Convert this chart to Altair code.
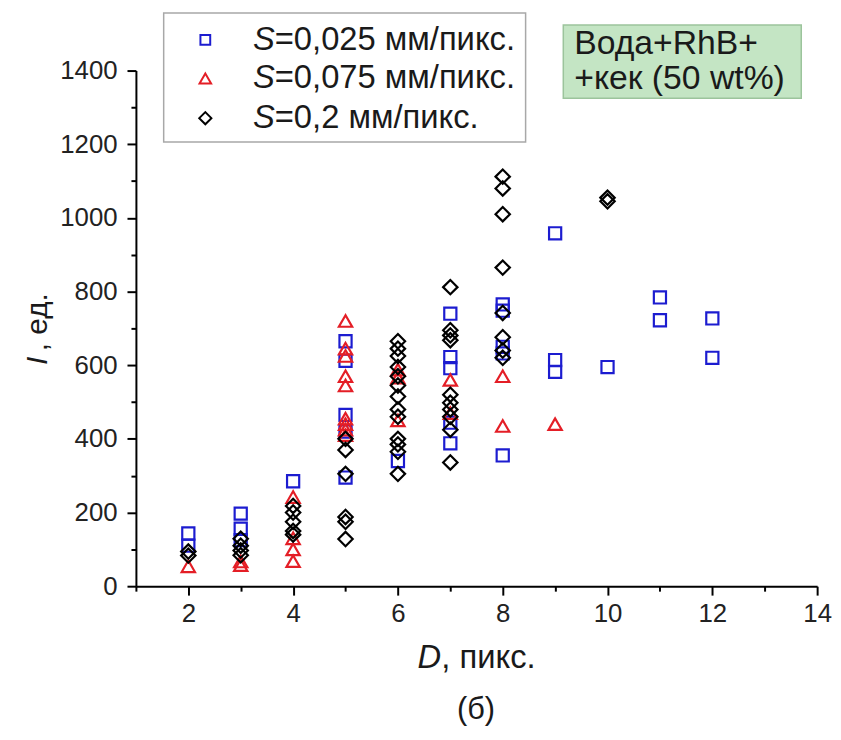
import altair as alt
import pandas as pd

# ---- data ----
blue_x = [2, 2, 3, 3, 3, 4, 5, 5, 5, 5, 5, 6, 7, 7, 7, 7, 7, 8, 8, 8, 8, 8, 9, 9, 9, 10, 11, 11, 12, 12]
blue_y = [143, 110, 197, 156, 125, 285, 665, 612, 465, 420, 295, 340, 740, 622, 592, 444, 388, 765, 748, 650, 632, 355, 958, 614, 582, 595, 784, 722, 727, 620]

red_x = [2, 3, 3, 4, 4, 4, 4, 5, 5, 5, 5, 5, 5, 5, 5, 5, 6, 6, 6, 7, 7, 8, 8, 9]
red_y = [54, 67, 57, 242, 130, 100, 68, 720, 645, 625, 570, 545, 455, 440, 425, 410, 588, 566, 450, 560, 470, 570, 435, 440]

black_x = [2, 2, 3, 3, 3, 3, 4, 4, 4, 4, 4, 5, 5, 5, 5, 5, 5,
           6, 6, 6, 6, 6, 6, 6, 6, 6, 6, 6, 6, 6,
           7, 7, 7, 7, 7, 7, 7, 7, 7, 7,
           8, 8, 8, 8, 8, 8, 8, 8, 10, 10]
black_y = [94, 83, 129, 110, 97, 84, 218, 200, 175, 150, 140, 400, 370, 305, 188, 175, 128,
           665, 645, 625, 595, 570, 545, 515, 480, 460, 400, 385, 365, 305,
           812, 695, 681, 668, 520, 498, 480, 460, 425, 336,
           1112, 1080, 1010, 865, 742, 676, 640, 620, 1055, 1045]

series_names = ["S=0,025 мм/пикс.", "S=0,075 мм/пикс.", "S=0,2 мм/пикс."]
series_colors = ["#1c1cd0", "#e41e26", "#000000"]
series_shapes = ["square", "triangle-up", "diamond"]
series_sizes = [150, 210, 230]

x_ticks = list(range(1, 15))
y_ticks = list(range(0, 1401, 100))

rows = []
for name, xs, ys in zip(series_names, [blue_x, red_x, black_x], [blue_y, red_y, black_y]):
    for a, b in zip(xs, ys):
        rows.append({"D": a, "I": b, "s": name})
df = pd.DataFrame(rows)

FONT = "Liberation Sans"
W, H = 687, 520

points = alt.Chart(df).mark_point(filled=False, strokeWidth=2.2, opacity=1).encode(
    x=alt.X("D:Q", scale=alt.Scale(domain=[1, 14], nice=False, zero=False),
            axis=alt.Axis(values=x_ticks, title=None, format="d",
                          labelExpr="datum.value % 2 === 0 ? datum.label : ''",
                          tickSize={"condition": {"test": "datum.value % 2 === 0", "value": 9}, "value": 5},
                          labelFlush=False, labelOverlap=False, labelPadding=6)),
    y=alt.Y("I:Q", scale=alt.Scale(domain=[0, 1400], nice=False),
            axis=alt.Axis(values=y_ticks, title=None, format="d",
                          labelExpr="datum.value % 200 === 0 ? datum.label : ''",
                          tickSize={"condition": {"test": "datum.value % 200 === 0", "value": 9}, "value": 5},
                          labelOverlap=False, labelPadding=10, labelFlush=False)),
    color=alt.Color("s:N", scale=alt.Scale(domain=series_names, range=series_colors), legend=None),
    shape=alt.Shape("s:N", scale=alt.Scale(domain=series_names, range=series_shapes), legend=None),
    size=alt.Size("s:N", scale=alt.Scale(domain=series_names, range=series_sizes), legend=None),
)


def txt(t, x, y, size=23, style="normal", align="left", angle=0, baseline="middle"):
    kw = dict(font=FONT, fontSize=size, fontStyle=style, align=align, baseline=baseline, color="#1a1a1a")
    if angle:
        kw["angle"] = angle
    return alt.Chart(pd.DataFrame({"t": [t]})).mark_text(**kw).encode(
        x=alt.value(x), y=alt.value(y), text="t:N")


def box(x1, x2, y1, y2, fill, stroke):
    return alt.Chart(pd.DataFrame({"a": [0]})).mark_rect(fill=fill, stroke=stroke, strokeWidth=1.5).encode(
        x=alt.value(x1), x2=alt.value(x2), y=alt.value(y1), y2=alt.value(y2))


layers = [points]

# legend box
layers.append(box(28, 393, -58, 72, "white", "#a8a8a8"))
leg_y = [-31, 8, 48]
for i in range(3):
    layers.append(alt.Chart(pd.DataFrame({"a": [0]})).mark_point(
        shape=series_shapes[i], color=series_colors[i], filled=False, strokeWidth=2,
        size=series_sizes[i] * 0.65, opacity=1).encode(x=alt.value(70), y=alt.value(leg_y[i])))
    layers.append(txt("S", 118, leg_y[i], size=33, style="italic"))
    layers.append(txt(series_names[i][1:], 140, leg_y[i], size=33))

# annotation box
layers.append(box(431, 671, -46, 28, "#c4e5c4", "#9cc49c"))
layers.append(txt("Вода+RhB+", 442, -27, size=34))
layers.append(txt("+кек (50 wt%)", 442, 9, size=34))

# axis titles
layers.append(txt("D", 284, 592, size=33, style="italic"))
layers.append(txt(", пикс.", 308, 592, size=33))
layers.append(txt("I", -99, 297, size=30, style="italic", angle=270))
layers.append(txt(", ед.", -99, 283, size=30, angle=270))
layers.append(txt("(б)", 343, 645, size=31, align="center"))

chart = alt.layer(*layers).properties(
    width=W, height=H,
    autosize="none",
    padding={"left": 129, "top": 60, "right": 16, "bottom": 150},
).configure_view(stroke=None).configure_axis(
    domainColor="black", domainWidth=2, tickColor="black", tickWidth=2,
    labelFont=FONT, labelFontSize=26, labelColor="#222222", grid=False,
)

chart.save("out.html", embed_options={"renderer": "svg", "actions": False})
